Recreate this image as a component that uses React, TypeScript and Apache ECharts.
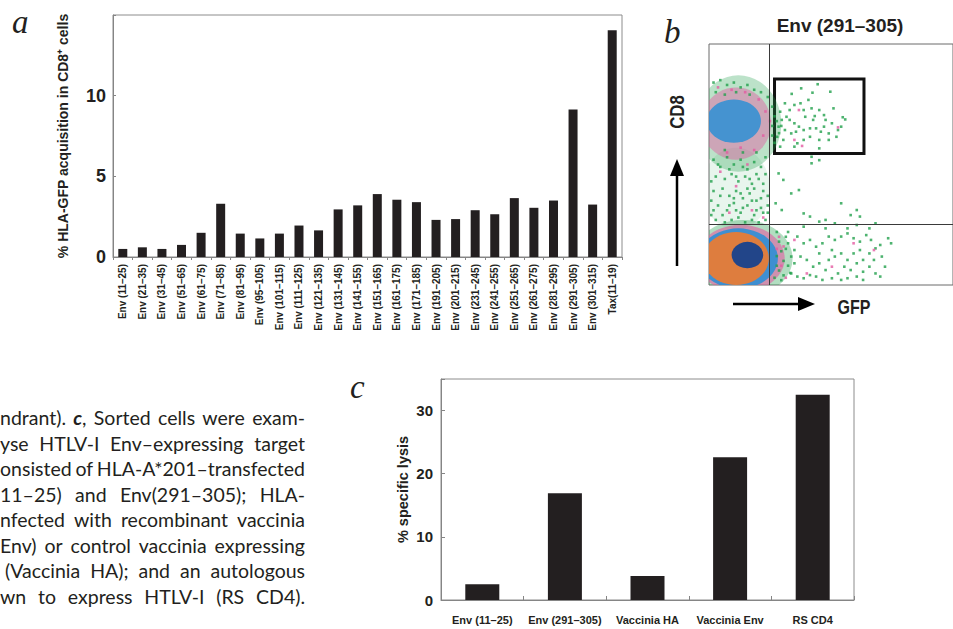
import React, { useEffect, useRef } from "react";
import * as echarts from "echarts";

// ---------- Panel a: HLA-GFP acquisition ----------
const peptides = [
  "Env (11–25)", "Env (21–35)", "Env (31–45)", "Env (51–65)", "Env (61–75)",
  "Env (71–85)", "Env (81–95)", "Env (95–105)", "Env (101–115)", "Env (111–125)",
  "Env (121–135)", "Env (131–145)", "Env (141–155)", "Env (151–165)", "Env (161–175)",
  "Env (171–185)", "Env (191–205)", "Env (201–215)", "Env (231–245)", "Env (241–255)",
  "Env (251–265)", "Env (261–275)", "Env (281–295)", "Env (291–305)", "Env (301–315)",
  "Tax(11–19)",
];
const hlaGfpPercent = [
  0.5, 0.6, 0.5, 0.75, 1.5, 3.3, 1.45, 1.15, 1.45, 1.95, 1.65, 2.95, 3.2, 3.9,
  3.55, 3.4, 2.3, 2.35, 2.9, 2.65, 3.65, 3.05, 3.5, 9.15, 3.25, 14.05,
];
const aTicks = [0, 5, 10];

// ---------- Panel c: specific lysis ----------
const targets = ["Env (11–25)", "Env (291–305)", "Vaccinia HA", "Vaccinia Env", "RS CD4"];
const lysisPercent = [2.5, 16.9, 3.8, 22.6, 32.5];
const cTicks = [0, 10, 20, 30];

// ---------- Panel b: flow cytometry (CD8 vs GFP), arbitrary fluorescence units ----------
const quadrantGFP = 26.7;
const quadrantCD8 = 25.3;
const gateGFP = [29.0, 68.6];
const gateCD8 = [54.6, 85.5];

// population density layers: [GFP centre, CD8 centre, GFP spread, CD8 spread]
const cd8PosHalo = [[13, 67, 38, 40]];
const cd8PosMid = [[12, 67, 31, 30]];
const cd8PosCore = [[11, 68, 24, 18]];
const columnHaze = [[12, 40, 30, 34]];
const cd8NegHalo = [[15, 11, 44, 32]];
const cd8NegMid = [[14, 11, 39, 28]];
const cd8NegBlue = [[13, 11, 35, 25]];
const cd8NegOrange = [[12, 11, 29, 22]];
const cd8NegCore = [[17, 12.4, 14, 11]];

// individual sparse events
const greenEvents = [
  [48.1, 83.3], [40.8, 81.6], [36.6, 79.3], [45.8, 79.8], [53.7, 80.2], [44.0, 76.8],
  [40.5, 75.4], [37.8, 74.7], [33.6, 75.4], [35.7, 72.6], [41.9, 72.6], [45.4, 73.3],
  [48.8, 72.6], [42.6, 69.8], [46.8, 70.1], [50.9, 70.5], [51.6, 68.5], [54.4, 67.1],
  [59.2, 69.6], [60.3, 68.7], [57.1, 64.3], [56.4, 61.5], [53.0, 62.9], [49.5, 63.6],
  [47.4, 65.0], [44.7, 65.0], [50.9, 65.7], [48.8, 60.2], [44.7, 61.5], [41.9, 60.2],
  [39.1, 58.8], [37.8, 57.4], [48.8, 56.7], [41.9, 64.3], [39.8, 65.7], [37.8, 67.1],
  [35.7, 68.5], [33.6, 64.3], [32.9, 60.2], [32.2, 68.5], [31.5, 71.9], [34.3, 69.8],
  [30.8, 65.7], [30.2, 61.5], [31.5, 57.4], [36.4, 62.9], [38.5, 63.6], [53.0, 60.2],
  [46.1, 68.5], [55.1, 73.3], [58.5, 65.7], [28, 66], [29, 70], [28, 62], [30, 68],
  [31, 63], [29, 59], [28, 74], [32, 66], [45.4, 53.2], [48.8, 51.8],
  [39.1, 20.1], [41.9, 17.3], [44.7, 18.7], [47.4, 15.9], [50.2, 17.3], [53.0, 20.1],
  [55.7, 18.7], [58.5, 20.1], [61.3, 21.4], [64.0, 19.4], [66.8, 18.0], [69.6, 20.7],
  [71.7, 18.7], [73.7, 15.2], [75.8, 16.6], [79.3, 19.4], [76.5, 11.8], [73.0, 10.4],
  [71.0, 7.6], [68.2, 5.5], [65.4, 3.5], [62.7, 6.2], [59.9, 7.6], [57.1, 4.8],
  [54.4, 2.8], [51.6, 6.2], [48.8, 9.0], [46.1, 7.6], [43.3, 10.4], [40.5, 11.8],
  [37.8, 9.0], [36.4, 4.8], [39.1, 3.5], [41.9, 2.8], [44.7, 4.1], [47.4, 3.5],
  [50.2, 2.1], [53.0, 10.4], [55.7, 11.8], [58.5, 13.1], [61.3, 10.4], [64.0, 13.1],
  [66.8, 14.5], [58.5, 2.1], [61.3, 2.8], [65.4, 9.0], [68.2, 10.4], [71.0, 13.1],
  [75.8, 3.5], [37.8, 14.5], [35.0, 17.3], [36.4, 11.8], [48.8, 13.1], [54.4, 14.5],
  [68.2, 2.1], [73.7, 4.8], [77.9, 7.6], [80.6, 17.3], [41.9, 24.2], [51.6, 23.5],
  [55.7, 25.6], [48.8, 26.3], [61.3, 23.5], [65.4, 24.9], [71.0, 23.5], [73.7, 25.6],
  [30.8, 46.3], [32.9, 43.6], [36.4, 38.0], [39.8, 39.4], [41.9, 29.7], [44.7, 28.4],
  [51.6, 27.0], [58.5, 33.9], [65.4, 31.1], [66.8, 28.4], [62.7, 29.0], [45.4, 50.5],
  [29.5, 33.9], [32.2, 31.1],
  [30, 22], [31, 18], [32, 14], [33, 10], [31, 6], [32, 2], [34, 20], [35, 8], [33, 4],
  [34, 15], [30, 12], [36, 5], [35, 22], [29, 3], [30, 8],
  [2, 52], [5, 49], [8, 53], [11, 50], [14, 52], [17, 48], [20, 51], [23, 49], [25, 53],
  [3, 45], [7, 44], [10, 46], [13, 43], [16, 45], [19, 42], [22, 44], [25, 46], [2, 39],
  [6, 40], [9, 37], [12, 39], [15, 36], [18, 38], [21, 35], [24, 39], [4, 33], [8, 31],
  [11, 34], [14, 30], [17, 33], [20, 29], [23, 32], [26, 30], [3, 27], [6, 29], [10, 27],
  [13, 28], [16, 26], [19, 27], [22, 26], [25, 27], [1, 35], [26, 37], [21, 55], [7, 56],
  [15, 55], [2, 84], [5, 85], [8, 83], [11, 84], [14, 82], [17, 83], [20, 81], [23, 80],
  [26, 78], [3, 80], [7, 79], [12, 80], [18, 79],
  [4, 50], [9, 48], [15, 49], [21, 46], [1, 43], [12, 45], [18, 44], [24, 42], [5, 37],
  [11, 36], [17, 40], [23, 36], [2, 31], [9, 33], [15, 32], [21, 31], [26, 33], [7, 26],
  [12, 31], [19, 35], [24, 30], [1, 29], [14, 38], [20, 40],
];
const pinkEvents = [
  [39.8, 72.6], [57.1, 65.4], [41.2, 57.7], [37.8, 60.2], [73.0, 14.5], [43.3, 4.8],
  [54.4, 7.6], [37.8, 18.7], [64.0, 17.3], [31, 20], [33, 16], [32, 8], [34, 3], [30, 15],
  [5, 47], [12, 41], [19, 31], [24, 28], [9, 30], [17, 50], [4, 82], [10, 81], [16, 80],
  [22, 77], [25, 72], [24, 62], [20, 56], [8, 55], [14, 57], [27, 68],
];

// ---------- caption text (clipped paragraph) ----------
const captionLines: { y: number; start: number; words: string[] }[] = [
  { y: 417, start: 0, words: ["ndrant).", "c,", "Sorted", "cells", "were", "exam-"] },
  { y: 443, start: 0, words: ["yse", "HTLV-I", "Env–expressing", "target"] },
  { y: 468, start: 0, words: ["onsisted", "of", "HLA-A*201–transfected"] },
  { y: 494, start: 0, words: ["11–25)", "and", "Env(291–305);", "HLA-"] },
  { y: 519, start: 0, words: ["nfected", "with", "recombinant", "vaccinia"] },
  { y: 545, start: 0, words: ["Env)", "or", "control", "vaccinia", "expressing"] },
  { y: 570, start: 5, words: ["(Vaccinia", "HA);", "and", "an", "autologous"] },
  { y: 596, start: 0, words: ["wn", "to", "express", "HTLV-I", "(RS", "CD4)."] },
];

const SANS = "'Liberation Sans', Arial, Helvetica, sans-serif";
const SERIF = "'Liberation Serif', 'DejaVu Serif', serif";
const CAPTION_FONT = "Lato, 'Open Sans', sans-serif";
const CAPTION_SIZE = 19.5;
const INK = "#231f20";

const GREEN = "#22a04c";
const PINK = "#e35ba1";
const LBLUE = "#2d8fd5";
const ORANGE = "#ef7b2e";
const DBLUE = "#0d3f91";

function ellipseLayer(data: number[][], color: string, opacity: number) {
  return {
    type: "custom",
    xAxisIndex: 1,
    yAxisIndex: 1,
    clip: true,
    silent: true,
    data,
    renderItem: (_p: any, api: any) => {
      const c = api.coord([api.value(0), api.value(1)]);
      const s = api.size([api.value(2), api.value(3)]);
      return {
        type: "circle",
        x: c[0],
        y: c[1],
        scaleX: s[0] / 2,
        scaleY: s[1] / 2,
        shape: { cx: 0, cy: 0, r: 1 },
        style: { fill: color, opacity },
      };
    },
  };
}

function txt(x: number, y: number, text: string, o: any = {}) {
  const align = o.align || "left";
  const valign = o.valign || "middle";
  return {
    type: "text",
    x,
    y,
    rotation: o.rotation || 0,
    scaleX: o.scaleX || 1,
    silent: true,
    style: {
      text,
      fill: o.fill || INK,
      fontSize: o.fontSize || 12,
      fontFamily: o.fontFamily || SANS,
      fontWeight: o.fontWeight || "normal",
      fontStyle: o.fontStyle || "normal",
      align,
      textAlign: align,
      verticalAlign: valign,
      textVerticalAlign: valign,
    },
  };
}

function captionGraphics() {
  const canvas = document.createElement("canvas");
  const ctx = canvas.getContext("2d")!;
  const measure = (t: string, style = "normal", weight = "normal") => {
    ctx.font = `${style} ${weight} ${CAPTION_SIZE}px ${CAPTION_FONT}`;
    return ctx.measureText(t).width;
  };
  const out: any[] = [];
  const right = 305;
  captionLines.forEach((line) => {
    const widths = line.words.map((w) =>
      w === "c," ? measure("c", "italic", "bold") + measure(",") : measure(w)
    );
    const total = widths.reduce((a, b) => a + b, 0);
    const gap = (right - line.start - total) / (line.words.length - 1);
    let x = line.start;
    line.words.forEach((w, i) => {
      if (w === "c,") {
        out.push(txt(x, line.y, "c", { fontFamily: CAPTION_FONT, fontSize: CAPTION_SIZE, fontWeight: "bold", fontStyle: "italic" }));
        out.push(txt(x + measure("c", "italic", "bold"), line.y, ",", { fontFamily: CAPTION_FONT, fontSize: CAPTION_SIZE }));
      } else {
        out.push(txt(x, line.y, w, { fontFamily: CAPTION_FONT, fontSize: CAPTION_SIZE }));
      }
      x += widths[i] + gap;
    });
  });
  return out;
}

export default function App() {
  const ref = useRef<HTMLDivElement>(null);
  useEffect(() => {
    if (!ref.current) return;
    const chart = echarts.init(ref.current, undefined, { renderer: "svg" });
    const axisGray = "#858585";
    const option: any = {
      animation: false,
      backgroundColor: "#ffffff",
      textStyle: { fontFamily: SANS },
      grid: [
        { left: 113, top: 15, width: 509, height: 242, show: true, borderColor: "#8c8c8c", borderWidth: 1 },
        { left: 709, top: 44, width: 260, height: 241, show: true, borderColor: "#6a6a6a", borderWidth: 1 },
        { left: 441, top: 379, width: 413, height: 221, show: true, borderColor: "#8c8c8c", borderWidth: 1 },
      ],
      xAxis: [
        {
          gridIndex: 0,
          type: "category",
          data: peptides,
          axisLine: { lineStyle: { color: axisGray, width: 1 } },
          axisTick: { show: true, length: 3, lineStyle: { color: axisGray } },
          axisLabel: { interval: 0, rotate: 90, margin: 7, fontSize: 10, fontWeight: "bold", fontFamily: SANS, color: INK },
        },
        { gridIndex: 1, type: "value", min: 0, max: 108, show: false },
        {
          gridIndex: 2,
          type: "category",
          data: targets,
          axisLine: { lineStyle: { color: axisGray, width: 1 } },
          axisTick: { show: true, inside: true, length: 4, lineStyle: { color: axisGray } },
          axisLabel: { interval: 0, margin: 14, fontSize: 11, fontWeight: "bold", fontFamily: SANS, color: INK },
        },
      ],
      yAxis: [
        {
          gridIndex: 0,
          type: "value",
          min: 0,
          max: 15,
          interval: 5,
          name: "% HLA-GFP acquisition in CD8⁺ cells",
          nameLocation: "middle",
          nameGap: 43,
          nameTextStyle: { fontSize: 14, fontWeight: "bold", fontFamily: SANS, color: INK },
          axisLine: { show: true, lineStyle: { color: axisGray } },
          axisTick: { show: true, inside: true, length: 3, lineStyle: { color: axisGray } },
          splitLine: { show: false },
          axisLabel: {
            margin: 7,
            fontSize: 18,
            fontWeight: "bold",
            fontFamily: SANS,
            color: INK,
            formatter: (v: number) => (aTicks.includes(v) ? String(v) : ""),
          },
        },
        { gridIndex: 1, type: "value", min: 0, max: 100, show: false },
        {
          gridIndex: 2,
          type: "value",
          min: 0,
          max: 35,
          interval: 10,
          name: "% specific lysis",
          nameLocation: "middle",
          nameGap: 31,
          nameTextStyle: { fontSize: 14.5, fontWeight: "bold", fontFamily: SANS, color: INK },
          axisLine: { show: true, lineStyle: { color: axisGray } },
          axisTick: { show: true, inside: true, length: 4, lineStyle: { color: axisGray } },
          splitLine: { show: false },
          axisLabel: {
            margin: 8,
            fontSize: 15,
            fontWeight: "bold",
            fontFamily: SANS,
            color: INK,
            formatter: (v: number) => (cTicks.includes(v) ? String(v) : ""),
          },
        },
      ],
      series: [
        {
          type: "bar",
          xAxisIndex: 0,
          yAxisIndex: 0,
          data: hlaGfpPercent,
          barWidth: 9,
          itemStyle: { color: INK },
          silent: true,
        },
        ellipseLayer(columnHaze, GREEN, 0.1),
        ellipseLayer(cd8PosHalo, GREEN, 0.3),
        ellipseLayer(cd8PosMid, PINK, 0.45),
        ellipseLayer(cd8PosCore, LBLUE, 0.85),
        ellipseLayer(cd8NegHalo, GREEN, 0.35),
        ellipseLayer(cd8NegMid, PINK, 0.6),
        ellipseLayer(cd8NegBlue, LBLUE, 0.9),
        ellipseLayer(cd8NegOrange, ORANGE, 0.9),
        ellipseLayer(cd8NegCore, DBLUE, 0.9),
        {
          type: "scatter",
          xAxisIndex: 1,
          yAxisIndex: 1,
          data: greenEvents,
          symbol: "rect",
          symbolSize: 2.6,
          itemStyle: { color: GREEN },
          silent: true,
        },
        {
          type: "scatter",
          xAxisIndex: 1,
          yAxisIndex: 1,
          data: pinkEvents,
          symbol: "rect",
          symbolSize: 2.6,
          itemStyle: { color: PINK },
          silent: true,
        },
        {
          type: "scatter",
          xAxisIndex: 1,
          yAxisIndex: 1,
          data: [],
          z: 10,
          silent: true,
          markLine: {
            silent: true,
            symbol: "none",
            label: { show: false },
            lineStyle: { color: "#3a3a3a", width: 1, type: "solid" },
            data: [{ xAxis: quadrantGFP }, { yAxis: quadrantCD8 }],
          },
          markArea: {
            silent: true,
            itemStyle: { color: "rgba(0,0,0,0)", borderColor: "#111", borderWidth: 3 },
            data: [[{ coord: [gateGFP[0], gateCD8[0]] }, { coord: [gateGFP[1], gateCD8[1]] }]],
          },
        },
        {
          type: "bar",
          xAxisIndex: 2,
          yAxisIndex: 2,
          data: lysisPercent,
          barWidth: 34,
          itemStyle: { color: INK },
          silent: true,
        },
      ],
      graphic: [
        txt(12, 22, "a", { fontFamily: SERIF, fontStyle: "italic", fontSize: 33 }),
        txt(664, 32, "b", { fontFamily: SERIF, fontStyle: "italic", fontSize: 33 }),
        txt(350, 387, "c", { fontFamily: SERIF, fontStyle: "italic", fontSize: 33 }),
        txt(840, 25, "Env (291–305)", { align: "center", fontSize: 19, fontWeight: "bold" }),
        txt(677, 112, "CD8", { align: "center", fontSize: 20, fontWeight: "bold", rotation: Math.PI / 2, scaleX: 0.84 }),
        txt(854, 307, "GFP", { align: "center", fontSize: 20, fontWeight: "bold", scaleX: 0.8 }),
        { type: "line", silent: true, shape: { x1: 677, y1: 266, x2: 677, y2: 172 }, style: { stroke: "#000", lineWidth: 2.5 } },
        { type: "polygon", silent: true, shape: { points: [[670, 176], [684, 176], [677, 159]] }, style: { fill: "#000" } },
        { type: "line", silent: true, shape: { x1: 733, y1: 304, x2: 802, y2: 304 }, style: { stroke: "#000", lineWidth: 2.5 } },
        { type: "polygon", silent: true, shape: { points: [[798, 297], [798, 311], [815, 304]] }, style: { fill: "#000" } },
        ...captionGraphics(),
      ],
    };
    chart.setOption(option);
    return () => chart.dispose();
  }, []);
  return (
    <div
      ref={ref}
      style={{ position: "fixed", left: 0, top: 0, width: 953, height: 629, background: "#fff" }}
    />
  );
}
